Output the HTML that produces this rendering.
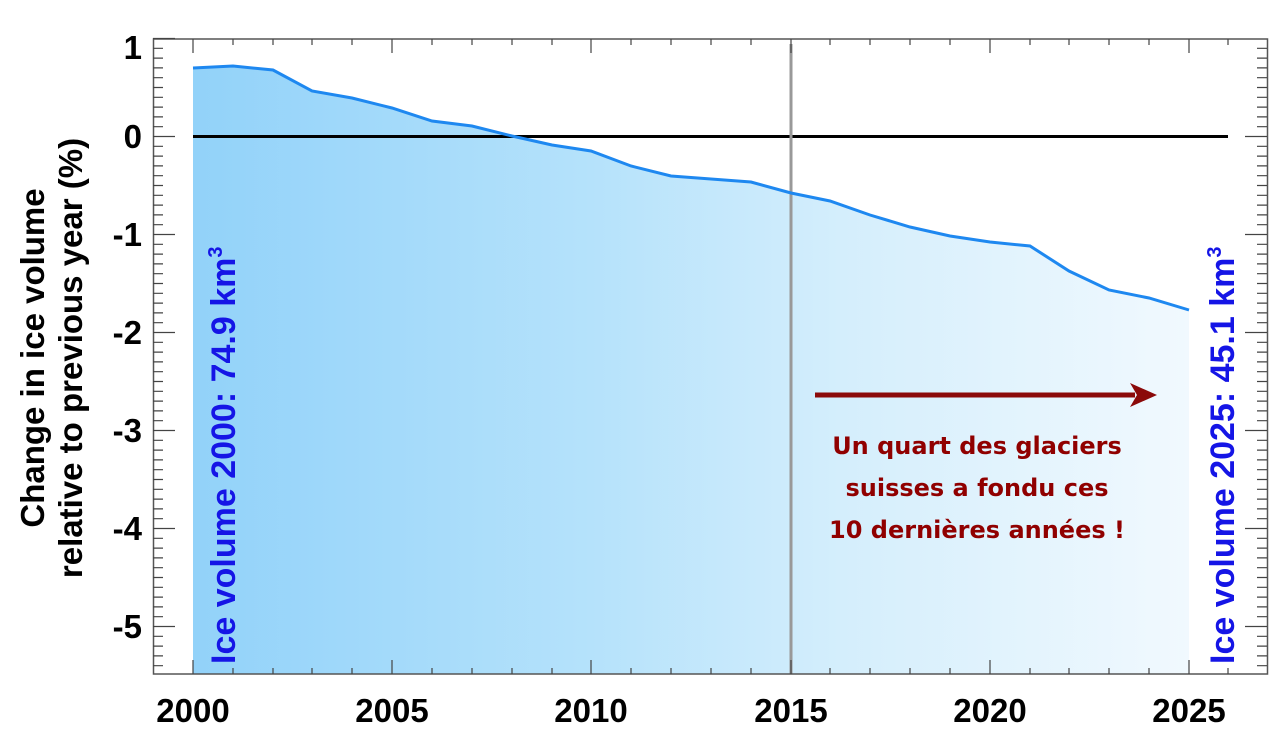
<!DOCTYPE html>
<html><head><meta charset="utf-8"><style>
html,body{margin:0;padding:0;background:#fff;}
svg{display:block;}
text{font-family:"Liberation Sans",Arial,sans-serif;font-weight:bold;}
</style></head><body>
<svg width="1276" height="745" viewBox="0 0 1276 745" xmlns="http://www.w3.org/2000/svg">
<defs>
<linearGradient id="g" x1="193" y1="0" x2="1189" y2="0" gradientUnits="userSpaceOnUse">
<stop offset="0" stop-color="#92d2f9"/>
<stop offset="0.4" stop-color="#b5e2fb"/>
<stop offset="0.65" stop-color="#d4eefc"/>
<stop offset="1" stop-color="#f1f9fe"/>
</linearGradient>
</defs>
<polygon fill="url(#g)" points="193,674 193,68 233,66 273,70 312,91 352,98 392,108 432,121 472,126 512,136 552,145 591,151 631,166 671,176 711,179 751,182 791,193 830,201 870,215 910,227 950,236 990,242 1030,246 1069,271 1109,290 1149,298 1189,310 1189,674"/>
<line x1="193" y1="136.5" x2="1228" y2="136.5" stroke="#000" stroke-width="3"/>
<line x1="791" y1="44" x2="791" y2="674" stroke="#999" stroke-width="3"/>
<polyline fill="none" stroke="#1e88f0" stroke-width="3" points="193,68 233,66 273,70 312,91 352,98 392,108 432,121 472,126 512,136 552,145 591,151 631,166 671,176 711,179 751,182 791,193 830,201 870,215 910,227 950,236 990,242 1030,246 1069,271 1109,290 1149,298 1189,310"/>
<rect x="153.5" y="39" width="1114" height="635" fill="none" stroke="#555" stroke-width="1.5"/>
<g stroke="#444" stroke-width="1.2">
<path d="M153,38.5h22M153,136.5h22M153,234.5h22M153,332.5h22M153,430.5h22M153,528.5h22M153,626.5h22M1267,136.5h-22M1267,234.5h-22M1267,332.5h-22M1267,430.5h-22M1267,528.5h-22M1267,626.5h-22"/>
<path d="M153,48.3h10M153,58.1h10M153,67.9h10M153,77.7h10M153,87.5h10M153,97.3h10M153,107.1h10M153,116.9h10M153,126.7h10M153,146.3h10M153,156.1h10M153,165.9h10M153,175.7h10M153,185.5h10M153,195.3h10M153,205.1h10M153,214.9h10M153,224.7h10M153,244.3h10M153,254.1h10M153,263.9h10M153,273.7h10M153,283.5h10M153,293.3h10M153,303.1h10M153,312.9h10M153,322.7h10M153,342.3h10M153,352.1h10M153,361.9h10M153,371.7h10M153,381.5h10M153,391.3h10M153,401.1h10M153,410.9h10M153,420.7h10M153,440.3h10M153,450.1h10M153,459.9h10M153,469.7h10M153,479.5h10M153,489.3h10M153,499.1h10M153,508.9h10M153,518.7h10M153,538.3h10M153,548.1h10M153,557.9h10M153,567.7h10M153,577.5h10M153,587.3h10M153,597.1h10M153,606.9h10M153,616.7h10M153,636.3h10M153,646.1h10M153,655.9h10M153,665.7h10"/>
<path d="M1267,48.3h-10M1267,58.1h-10M1267,67.9h-10M1267,77.7h-10M1267,87.5h-10M1267,97.3h-10M1267,107.1h-10M1267,116.9h-10M1267,126.7h-10M1267,146.3h-10M1267,156.1h-10M1267,165.9h-10M1267,175.7h-10M1267,185.5h-10M1267,195.3h-10M1267,205.1h-10M1267,214.9h-10M1267,224.7h-10M1267,244.3h-10M1267,254.1h-10M1267,263.9h-10M1267,273.7h-10M1267,283.5h-10M1267,293.3h-10M1267,303.1h-10M1267,312.9h-10M1267,322.7h-10M1267,342.3h-10M1267,352.1h-10M1267,361.9h-10M1267,371.7h-10M1267,381.5h-10M1267,391.3h-10M1267,401.1h-10M1267,410.9h-10M1267,420.7h-10M1267,440.3h-10M1267,450.1h-10M1267,459.9h-10M1267,469.7h-10M1267,479.5h-10M1267,489.3h-10M1267,499.1h-10M1267,508.9h-10M1267,518.7h-10M1267,538.3h-10M1267,548.1h-10M1267,557.9h-10M1267,567.7h-10M1267,577.5h-10M1267,587.3h-10M1267,597.1h-10M1267,606.9h-10M1267,616.7h-10M1267,636.3h-10M1267,646.1h-10M1267,655.9h-10M1267,665.7h-10"/>
<path d="M193,674v-14M392,674v-14M591,674v-14M791,674v-14M990,674v-14M1189,674v-14M193,39v14M392,39v14M591,39v14M791,39v14M990,39v14M1189,39v14"/>
<path d="M233,674v-6M273,674v-6M312,674v-6M352,674v-6M432,674v-6M472,674v-6M512,674v-6M552,674v-6M631,674v-6M671,674v-6M711,674v-6M751,674v-6M830,674v-6M870,674v-6M910,674v-6M950,674v-6M1030,674v-6M1069,674v-6M1109,674v-6M1149,674v-6M1228,674v-6"/>
<path d="M233,39v6M273,39v6M312,39v6M352,39v6M432,39v6M472,39v6M512,39v6M552,39v6M631,39v6M671,39v6M711,39v6M751,39v6M830,39v6M870,39v6M910,39v6M950,39v6M1030,39v6M1069,39v6M1109,39v6M1149,39v6M1228,39v6"/>
</g>
<g font-size="33" text-anchor="end" fill="#000">
<text x="142" y="59">1</text>
<text x="142" y="148">0</text>
<text x="142" y="246">-1</text>
<text x="142" y="344">-2</text>
<text x="142" y="442">-3</text>
<text x="142" y="540">-4</text>
<text x="142" y="638">-5</text>
</g>
<g font-size="33" text-anchor="middle" fill="#000">
<text x="193" y="722">2000</text>
<text x="392" y="722">2005</text>
<text x="591" y="722">2010</text>
<text x="791" y="722">2015</text>
<text x="990" y="722">2020</text>
<text x="1189" y="722">2025</text>
</g>
<g font-size="33" text-anchor="middle" fill="#000">
<text transform="translate(44,358) rotate(-90)">Change in ice volume</text>
<text transform="translate(82,358) rotate(-90)">relative to previous year (%)</text>
</g>
<g font-size="34" fill="#1515e6">
<text transform="translate(235,664) rotate(-90)">Ice volume 2000: 74.9 km<tspan font-size="20" dy="-13">3</tspan></text>
<text transform="translate(1234,664) rotate(-90)">Ice volume 2025: 45.1 km<tspan font-size="20" dy="-13">3</tspan></text>
</g>
<line x1="815" y1="395" x2="1135" y2="395" stroke="#8b0a0a" stroke-width="5"/>
<polygon points="1130,383 1157,395 1130,407 1137,395" fill="#8b0a0a"/>
<g font-size="24" text-anchor="middle" fill="#900000">
<text x="977" y="454" style="font-family:'DejaVu Sans',sans-serif">Un quart des glaciers</text>
<text x="977" y="496" style="font-family:'DejaVu Sans',sans-serif">suisses a fondu ces</text>
<text x="977" y="538" style="font-family:'DejaVu Sans',sans-serif">10 dernières années !</text>
</g>
</svg>
</body></html>
